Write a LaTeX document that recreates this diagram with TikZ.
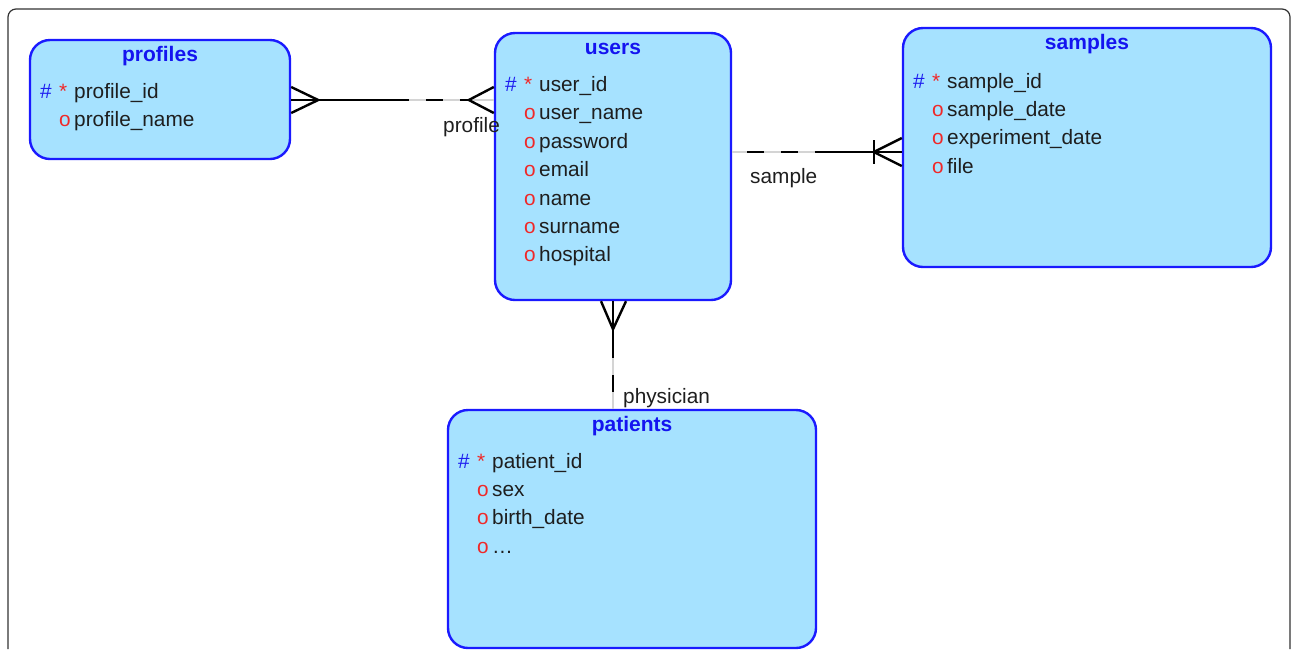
\documentclass[tikz,border=0pt]{standalone}
\usepackage{fontspec}
\setmainfont{Liberation Sans}
\usetikzlibrary{calc}
\definecolor{efill}{RGB}{166,226,255}
\definecolor{eline}{RGB}{26,26,255}
\definecolor{etitlec}{RGB}{20,20,240}
\definecolor{mred}{RGB}{240,40,40}
\definecolor{mblue}{RGB}{30,30,240}
\definecolor{txtc}{RGB}{30,30,30}
\definecolor{dgray}{RGB}{212,212,212}
\definecolor{framec}{RGB}{50,50,50}

\tikzset{
 entity/.style={draw=eline, fill=efill, line width=2.4pt, rounded corners=20pt, inner sep=0pt},
 etitle/.style={anchor=base, inner sep=0pt, text=etitlec, font=\fontsize{21}{25}\selectfont\bfseries},
 rtxt/.style={anchor=base west, inner sep=0pt, text=txtc, font=\fontsize{20.8}{25}\selectfont},
 mk/.style={anchor=base west, inner sep=0pt, font=\fontsize{20.8}{25}\selectfont},
 rel/.style={line width=2.4pt, black},
 reldash/.style={line width=2.4pt, black, dash pattern=on 17pt off 17pt, dash phase=17pt},
 relbg/.style={line width=2.4pt, dgray},
 lbl/.style={anchor=base west, inner sep=0pt, text=txtc, font=\fontsize{20.8}{25}\selectfont},
 framest/.style={draw=framec, line width=1.2pt, rounded corners=8pt}
}

% box: name, left, top, right, bottom, title
\newcommand{\erbox}[6]{%
 \node[entity, minimum width={(#4-#2)*1pt}, minimum height={(#5-#3)*1pt}] (#1) at ({(#2+#4)/2},{(#3+#5)/2}) {};
 \node[etitle] (#1t) at ({(#2+#4)/2},{#3+21.5}) {#6};}
\newcommand{\pkrow}[4]{%
 \node[mk,text=mblue] (#1h) at ({#2+10},{#3}) {\#};
 \node[mk,text=mred] (#1s) at ({#2+29},{#3}) {*};
 \node[rtxt] (#1) at ({#2+44},{#3}) {#4};}
\newcommand{\atrow}[4]{%
 \node[mk,text=mred] (#1o) at ({#2+29},{#3}) {o};
 \node[rtxt] (#1) at ({#2+44},{#3}) {#4};}

\begin{document}
\begin{tikzpicture}[x=1pt,y=-1pt]
\useasboundingbox (0,0) rectangle (1292,649);
\path[framest] (8,649) -- (8,9) -- (1290,9) -- (1290,649);

% entities
\erbox{profiles}{30}{40}{290}{159}{profiles}
\pkrow{pid}{30}{98.5}{profile\_id}
\atrow{pname}{30}{126.9}{profile\_name}

\erbox{users}{495}{33}{731}{300}{users}
\pkrow{uid}{495}{91.5}{user\_id}
\atrow{uname}{495}{119.9}{user\_name}
\atrow{upass}{495}{148.3}{password}
\atrow{uemail}{495}{176.7}{email}
\atrow{unm}{495}{205.1}{name}
\atrow{usur}{495}{233.5}{surname}
\atrow{uhosp}{495}{261.9}{hospital}

\erbox{samples}{903}{28}{1271}{267}{samples}
\pkrow{sid}{903}{88}{sample\_id}
\atrow{sdate}{903}{116.4}{sample\_date}
\atrow{sexp}{903}{144.8}{experiment\_date}
\atrow{sfile}{903}{173.2}{file}

\erbox{patients}{448}{410}{816}{648}{patients}
\pkrow{patid}{448}{468}{patient\_id}
\atrow{psex}{448}{496.4}{sex}
\atrow{pbirth}{448}{524.8}{birth\_date}
\atrow{pmore}{448}{553.2}{\ldots}

% profiles -- users
\coordinate (pu1) at (profiles.east |- 0,100);
\coordinate (pu2) at (users.west |- 0,100);
\coordinate (pucl) at ($(pu1)+(27,0)$);
\coordinate (pusw) at ($(pu1)+(118,0)$);
\coordinate (pucr) at ($(pu2)+(-25,0)$);
\draw[relbg] (pusw) -- (pu2);
\draw[rel] (pu1) -- (pusw);
\draw[reldash] (pusw) -- (pucr);
\draw[rel] ($(pu1)+(0,-13)$) -- (pucl) -- ($(pu1)+(0,13)$);
\draw[rel] ($(pu2)+(0,-13)$) -- (pucr) -- ($(pu2)+(0,13)$);
\node[lbl] (lprofile) at (443,132) {profile};

% users -- samples
\coordinate (us1) at (users.east |- 0,152);
\coordinate (us2) at (samples.west |- 0,152);
\coordinate (ussw) at ($(us2)+(-87,0)$);
\coordinate (uscr) at ($(us2)+(-28,0)$);
\draw[relbg] (us1) -- (ussw);
\draw[reldash] (ussw) -- (us1);
\draw[rel] (ussw) -- (us2);
\draw[rel] ($(uscr)+(0,-12)$) -- ($(uscr)+(0,12)$);
\draw[rel] ($(us2)+(0,-14)$) -- (uscr) -- ($(us2)+(0,14)$);
\node[lbl] (lsample) at (750,183) {sample};

% users -- patients
\coordinate (up1) at (users.south -| 613,0);
\coordinate (up2) at (patients.north -| 613,0);
\coordinate (upcr) at ($(up1)+(0,28)$);
\coordinate (upsw) at ($(up1)+(0,57)$);
\draw[relbg] (upsw) -- (up2);
\draw[rel] (up1) -- (upsw);
\draw[reldash] (upsw) -- (up2);
\draw[rel] ($(up1)+(-12,0)$) -- (upcr) -- ($(up1)+(13,0)$);
\node[lbl] (lphys) at (623,403) {physician};
\end{tikzpicture}
\end{document}
